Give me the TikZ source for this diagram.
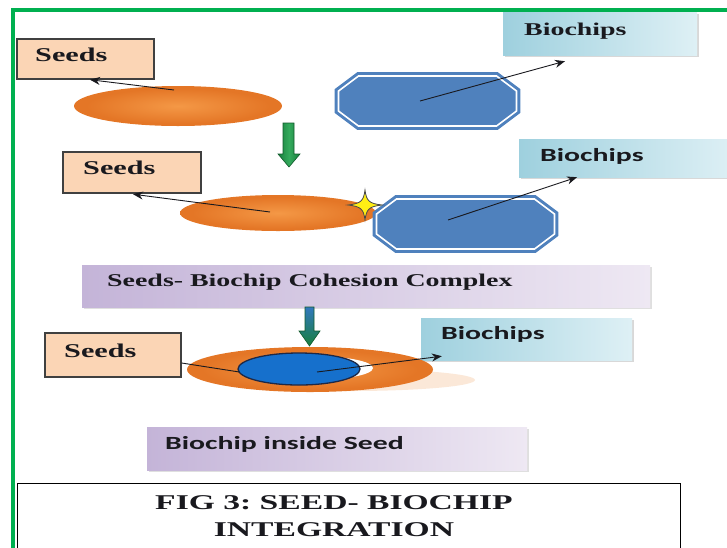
\documentclass[tikz,border=0pt]{standalone}
\usepackage{fontspec}
\usetikzlibrary{shapes.geometric,arrows.meta,calc,shadows}
\newfontfamily\wideserif[FakeStretch=1.55]{Liberation Serif}
\newfontfamily\capserif[FakeStretch=1.6]{Liberation Serif}
\newfontfamily\widesans[FakeStretch=1.6]{Carlito}

\definecolor{framegreen}{RGB}{0,176,80}
\definecolor{peach}{RGB}{251,213,181}
\definecolor{boxedge}{RGB}{64,64,64}
\definecolor{chipblue}{RGB}{79,129,189}
\definecolor{seedhi}{RGB}{244,152,70}
\definecolor{seedmid}{RGB}{228,118,38}
\definecolor{seedlo}{RGB}{176,80,18}
\definecolor{aquaA}{RGB}{158,208,222}
\definecolor{aquaB}{RGB}{222,240,245}
\definecolor{lilacA}{RGB}{196,180,216}
\definecolor{lilacB}{RGB}{238,232,243}
\definecolor{coreblue}{RGB}{22,112,204}
\definecolor{navy}{RGB}{30,40,70}
\definecolor{arrowgreen}{RGB}{24,128,62}
\definecolor{arrowlight}{RGB}{52,170,92}
\definecolor{arrowteal}{RGB}{50,120,190}
\definecolor{sparkle}{RGB}{255,238,20}
\definecolor{inkdark}{RGB}{25,25,30}
\definecolor{shadowpeach}{RGB}{251,232,216}

\pgfdeclareradialshading{seedglow}{\pgfpoint{0bp}{0bp}}{%
  color(0bp)=(seedhi); color(22bp)=(seedmid); color(40bp)=(seedmid); color(50bp)=(seedlo)}

\begin{document}
\begin{tikzpicture}[x=1pt,y=-1pt,
  seedbox/.style={draw=boxedge, line width=1.4pt, fill=peach, inner sep=0pt},
  chipbox/.style={left color=aquaA, right color=aquaB, inner sep=0pt,
    drop shadow={shadow xshift=2pt, shadow yshift=-2pt, fill=black!30}},
  lilacbox/.style={left color=lilacA, right color=lilacB, inner sep=0pt,
    drop shadow={shadow xshift=2pt, shadow yshift=-2pt, fill=black!25}},
  seedshape/.style={ellipse, shading=seedglow, inner sep=0pt},
  chipocta/.style={fill=chipblue, draw=chipblue, double=white,
    double distance=1.6pt, line width=3pt},
  serlabel/.style={inner sep=0pt, text depth=0pt, text=inkdark,
    font=\wideserif\bfseries\fontsize{19.5pt}{20pt}\selectfont},
  serlabelsm/.style={serlabel, font=\wideserif\bfseries\fontsize{18pt}{19pt}\selectfont},
  sanslabel/.style={inner sep=0pt, text depth=0pt, text=inkdark,
    font=\widesans\bfseries\fontsize{18.6pt}{19pt}\selectfont},
  pointer/.style={draw=inkdark, line width=0.9pt, -{Stealth[length=10pt,width=8pt]}},
  plainline/.style={draw=inkdark, line width=0.9pt},
  downarrow/.style={draw=arrowgreen!70!black, line width=0.6pt}]

\useasboundingbox (0,0) rectangle (727,547);
\clip (0,0) rectangle (727,547);

% outer frame
\draw[framegreen, line width=3.2pt] (13,560) -- (13,10) -- (740,10);

% ---------- stage 1: seed and chip apart ----------
\node[seedbox, minimum width=137pt, minimum height=40pt] (seeds1) at (85.5,59) {};
\node[serlabel, anchor=west] (seeds1txt) at (35,55) {Seeds};
\node[chipbox, minimum width=194pt, minimum height=43pt] (chips1) at (600,33.5) {};
\node[serlabelsm, anchor=west] (chips1txt) at (524,29) {Biochips};

\node[seedshape, minimum width=208pt, minimum height=40pt] (seed1) at (178,106) {};
\draw[chipocta, shift={(427.5,101)}]
  (-69,-25) -- (69,-25) -- (89,-10) -- (89,10) -- (69,25) -- (-69,25) -- (-89,10) -- (-89,-10) -- cycle;
\coordinate (chip1) at (427.5,101);

\draw[pointer] ($(seed1.center)+(-4,-16)$) -- ($(seeds1.south)+(4.5,0)$);
\draw[pointer] ($(chip1)+(-7.5,0)$) -- ($(chips1.south)+(-35,6)$);

% down arrow 1
\shadedraw[downarrow, left color=arrowgreen, right color=arrowgreen, middle color=arrowlight]
  (283,123) -- (294,123) -- (294,154) -- (300,154) -- (289,167) -- (278,154) -- (283,154) -- cycle;

% ---------- stage 2: seed and chip joined ----------
\node[seedbox, minimum width=138pt, minimum height=41pt] (seeds2) at (132,172.5) {};
\node[serlabel, anchor=west] (seeds2txt) at (83,168) {Seeds};
\node[chipbox, minimum width=216pt, minimum height=38pt] (chips2) at (627,158) {};
\node[sanslabel, anchor=west] (chips2txt) at (540,155) {Biochips};

\node[seedshape, minimum width=196pt, minimum height=36pt] (seed2) at (278,213) {};
\draw[chipocta, shift={(465.5,224)}]
  (-69,-25) -- (69,-25) -- (89,-10) -- (89,10) -- (69,25) -- (-69,25) -- (-89,10) -- (-89,-10) -- cycle;
\coordinate (chip2) at (465.5,224);

% contact sparkle
\filldraw[fill=sparkle, draw=inkdark!80, line width=0.8pt, shift={(365,205)}]
  (17,0) .. controls (4,-1.5) and (1.5,-4) .. (0,-15)
  .. controls (-1.5,-4) and (-4,-1.5) .. (-17,0)
  .. controls (-4,1.5) and (-1.5,4) .. (0,15)
  .. controls (1.5,4) and (4,1.5) .. (17,0) -- cycle;

\draw[pointer] ($(seed2.center)+(-8,-1)$) -- ($(seeds2.south)+(1,0.5)$);
\draw[pointer] ($(chip2)+(-17.5,-4)$) -- ($(chips2.south)+(-50,0)$);

\node[lilacbox, minimum width=568pt, minimum height=42pt] (cohesion) at (366,286) {};
\node[serlabelsm, anchor=west] (cohesiontxt) at (107,280) {Seeds- Biochip Cohesion Complex};

% down arrow 2
\shadedraw[downarrow, top color=arrowteal, bottom color=arrowgreen]
  (305,307) -- (314,307) -- (314,331) -- (320,331) -- (309.5,346) -- (299,331) -- (305,331) -- cycle;

% ---------- stage 3: chip inside seed ----------
\node[seedbox, minimum width=136pt, minimum height=44pt] (seeds3) at (113,355) {};
\node[serlabel, anchor=west] (seeds3txt) at (64,351) {Seeds};
\node[chipbox, minimum width=211pt, minimum height=42pt] (chips3) at (526.5,339) {};
\node[sanslabel, anchor=west] (chips3txt) at (441,333) {Biochips};

\fill[shadowpeach] (350,380) ellipse [x radius=125pt, y radius=11pt];
\node[seedshape, minimum width=246pt, minimum height=45pt] (ring) at (310,369.5) {};
\fill[white] (312,368) ellipse [x radius=61pt, y radius=12pt];
\node[ellipse, fill=coreblue, draw=navy, line width=1.3pt, inner sep=0pt,
  minimum width=122pt, minimum height=32pt] (core) at (299,369) {};

\draw[plainline] ($(seeds3.east)+(0,8)$) -- ($(core.west)+(2,3)$);
\draw[pointer] ($(core.center)+(18,3)$) -- ($(chips3.south west)+(21,-4)$);

\node[lilacbox, minimum width=380pt, minimum height=43pt] (inside) at (337,448.5) {};
\node[sanslabel, anchor=west] (insidetxt) at (165,443) {Biochip inside Seed};

% caption
\node[draw=black, line width=1.3pt, fill=white, inner sep=0pt, anchor=north west,
  minimum width=663pt, minimum height=80pt] (caption) at (17,483) {};
\node[align=center, inner sep=0pt, text=inkdark,
  font=\capserif\bfseries\fontsize{21pt}{27pt}\selectfont\frenchspacing] (captiontxt) at (334,516)
  {FIG 3: SEED- BIOCHIP\\INTEGRATION};
\end{tikzpicture}
\end{document}
